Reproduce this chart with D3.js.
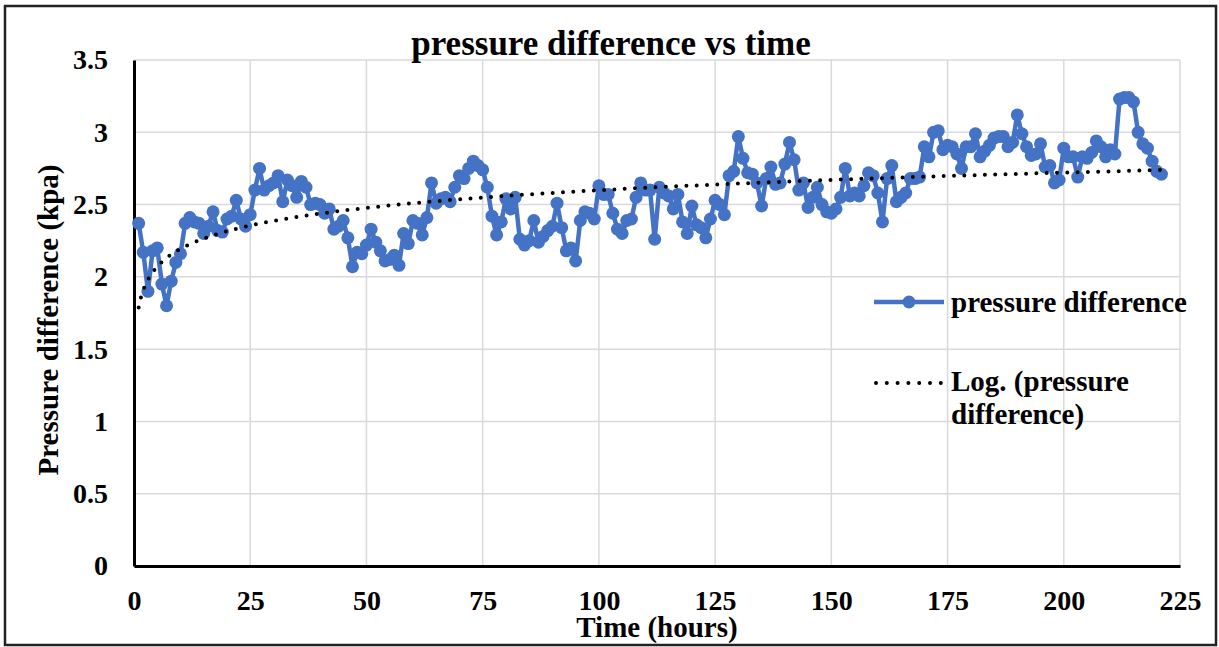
<!DOCTYPE html>
<meta charset="utf-8">
<style>
    body { margin: 0; background: #fff; }
    svg text {
        font-family: "Liberation Serif", "Times New Roman", serif;
        font-weight: bold;
        fill: #000;
    }
    .grid line { stroke: #d9d9d9; stroke-width: 1.5; }
</style>
<svg></svg>
<script src="https://d3js.org/d3.v7.min.js"></script>
<script>

    var width = 1219,
        height = 647;

    // hours 1..221
    var hours = d3.range(1, 222);
    var pressure = [
        2.37, 2.17, 1.90, 2.18, 2.20, 1.95, 1.80, 1.97, 2.10, 2.16,
        2.37, 2.41, 2.38, 2.37, 2.30, 2.35, 2.45, 2.32, 2.31, 2.40,
        2.42, 2.53, 2.40, 2.35, 2.43, 2.60, 2.75, 2.60, 2.63, 2.65,
        2.70, 2.52, 2.67, 2.63, 2.55, 2.66, 2.62, 2.50, 2.51, 2.50,
        2.44, 2.47, 2.33, 2.35, 2.39, 2.27, 2.07, 2.17, 2.16, 2.22,
        2.33, 2.24, 2.18, 2.11, 2.12, 2.15, 2.08, 2.30, 2.23, 2.39,
        2.37, 2.29, 2.41, 2.65, 2.51, 2.54, 2.55, 2.52, 2.62, 2.70,
        2.68, 2.75, 2.80, 2.77, 2.74, 2.62, 2.42, 2.29, 2.38, 2.54,
        2.47, 2.55, 2.26, 2.22, 2.25, 2.39, 2.24, 2.28, 2.32, 2.35,
        2.51, 2.34, 2.18, 2.20, 2.11, 2.39, 2.45, 2.44, 2.40, 2.63,
        2.57, 2.57, 2.44, 2.33, 2.30, 2.39, 2.40, 2.55, 2.65, 2.60,
        2.60, 2.26, 2.62, 2.58, 2.56, 2.47, 2.57, 2.38, 2.30, 2.49,
        2.36, 2.34, 2.27, 2.40, 2.53, 2.50, 2.43, 2.70, 2.73, 2.97,
        2.82, 2.72, 2.71, 2.65, 2.49, 2.68, 2.76, 2.64, 2.65, 2.78,
        2.93, 2.81, 2.60, 2.65, 2.48, 2.55, 2.62, 2.50, 2.45, 2.44,
        2.47, 2.55, 2.75, 2.56, 2.58, 2.56, 2.63, 2.72, 2.70, 2.58,
        2.38, 2.68, 2.77, 2.52, 2.55, 2.58, 2.68, 2.68, 2.69, 2.90,
        2.83, 3.00, 3.01, 2.88, 2.91, 2.90, 2.85, 2.75, 2.90, 2.90,
        2.99, 2.83, 2.87, 2.91, 2.96, 2.97, 2.97, 2.90, 2.93, 3.12,
        2.99, 2.90, 2.84, 2.85, 2.92, 2.76, 2.77, 2.65, 2.67, 2.89,
        2.83, 2.83, 2.69, 2.83, 2.82, 2.86, 2.94, 2.90, 2.83, 2.88,
        2.85, 3.23, 3.24, 3.24, 3.21, 3.00, 2.92, 2.89, 2.80, 2.73,
        2.71
    ];

    var xTicks = [0, 25, 50, 75, 100, 125, 150, 175, 200, 225];
    var yTicks = [0, 0.5, 1, 1.5, 2, 2.5, 3, 3.5];

    var data = hours.map(function (h, i) { return { h: h, v: pressure[i] }; });

    var blue = "#4472c4";

    var svg = d3.select("svg")
        .attr("width", width)
        .attr("height", height);

    var x = d3.scaleLinear().domain([0, 225]).range([134, 1180]);
    var y = d3.scaleLinear().domain([0, 3.5]).range([566, 60]);

    // outer frame
    svg.append("rect")
        .attr("x", 5).attr("y", 6)
        .attr("width", 1211).attr("height", 639)
        .attr("fill", "none")
        .attr("stroke", "#222")
        .attr("stroke-width", 2.5);

    // grid
    var grid = svg.append("g").attr("class", "grid");
    grid.selectAll(".hg")
        .data(yTicks.filter(function (d) { return d > 0; }))
        .enter().append("line")
        .attr("x1", x(0)).attr("x2", x(225))
        .attr("y1", function (d) { return y(d); })
        .attr("y2", function (d) { return y(d); });
    grid.selectAll(".vg")
        .data(xTicks.filter(function (d) { return d > 0; }))
        .enter().append("line")
        .attr("y1", y(0)).attr("y2", y(3.5))
        .attr("x1", function (d) { return x(d); })
        .attr("x2", function (d) { return x(d); });

    // axes
    var xAxis = svg.append("g")
        .attr("transform", "translate(0," + y(0) + ")")
        .call(d3.axisBottom(x).tickValues(xTicks).tickSize(0).tickPadding(24)
            .tickFormat(function (d) { return String(d); }));
    var yAxis = svg.append("g")
        .attr("transform", "translate(" + x(0) + ",0)")
        .call(d3.axisLeft(y).tickValues(yTicks).tickSize(0).tickPadding(26)
            .tickFormat(function (d) { return String(d); }));

    [xAxis, yAxis].forEach(function (a) {
        a.select(".domain").attr("stroke", "#000").attr("stroke-width", 3);
        a.selectAll("text")
            .attr("font-size", 28)
            .attr("font-family", "'Liberation Serif', 'Times New Roman', serif")
            .attr("font-weight", "bold");
    });

    // series
    var line = d3.line()
        .x(function (d) { return x(d.h); })
        .y(function (d) { return y(d.v); });

    svg.append("path")
        .datum(data)
        .attr("d", line)
        .attr("fill", "none")
        .attr("stroke", blue)
        .attr("stroke-width", 4.5)
        .attr("stroke-linejoin", "round");

    svg.selectAll(".pt")
        .data(data)
        .enter().append("circle")
        .attr("cx", function (d) { return x(d.h); })
        .attr("cy", function (d) { return y(d.v); })
        .attr("r", 6.5)
        .attr("fill", blue);

    // logarithmic trend line, least squares on ln(h)
    var lx = data.map(function (d) { return Math.log(d.h); });
    var mx = d3.mean(lx), my = d3.mean(pressure);
    var sxy = d3.sum(data, function (d, i) { return (lx[i] - mx) * (d.v - my); });
    var sxx = d3.sum(lx, function (v) { return (v - mx) * (v - mx); });
    var slope = sxy / sxx, icpt = my - slope * mx;

    var trend = d3.range(1, 221.01, 0.5).map(function (h) {
        return { h: h, v: icpt + slope * Math.log(h) };
    });

    svg.append("path")
        .datum(trend)
        .attr("d", line)
        .attr("fill", "none")
        .attr("stroke", "#000")
        .attr("stroke-width", 4)
        .attr("stroke-linecap", "round")
        .attr("stroke-dasharray", "0 10.3");

    // title and axis titles
    svg.append("text")
        .attr("x", 611).attr("y", 55)
        .attr("text-anchor", "middle")
        .attr("font-size", 35)
        .text("pressure difference vs time");

    svg.append("text")
        .attr("x", 657).attr("y", 637)
        .attr("text-anchor", "middle")
        .attr("font-size", 29)
        .text("Time (hours)");

    svg.append("text")
        .attr("transform", "translate(58,320) rotate(-90)")
        .attr("text-anchor", "middle")
        .attr("font-size", 29)
        .text("Pressure difference (kpa)");

    // legend
    var lg = svg.append("g");
    lg.append("line")
        .attr("x1", 874).attr("x2", 944).attr("y1", 302).attr("y2", 302)
        .attr("stroke", blue).attr("stroke-width", 4.5);
    lg.append("circle")
        .attr("cx", 909).attr("cy", 302).attr("r", 6.5).attr("fill", blue);
    lg.append("text")
        .attr("x", 951).attr("y", 312)
        .attr("font-size", 29)
        .text("pressure difference");

    lg.append("line")
        .attr("x1", 876).attr("x2", 941).attr("y1", 383).attr("y2", 383)
        .attr("stroke", "#000").attr("stroke-width", 4)
        .attr("stroke-linecap", "round")
        .attr("stroke-dasharray", "0 10.8");
    lg.append("text")
        .attr("x", 951).attr("y", 391)
        .attr("font-size", 29)
        .text("Log. (pressure");
    lg.append("text")
        .attr("x", 951).attr("y", 424)
        .attr("font-size", 29)
        .text("difference)");

</script>
